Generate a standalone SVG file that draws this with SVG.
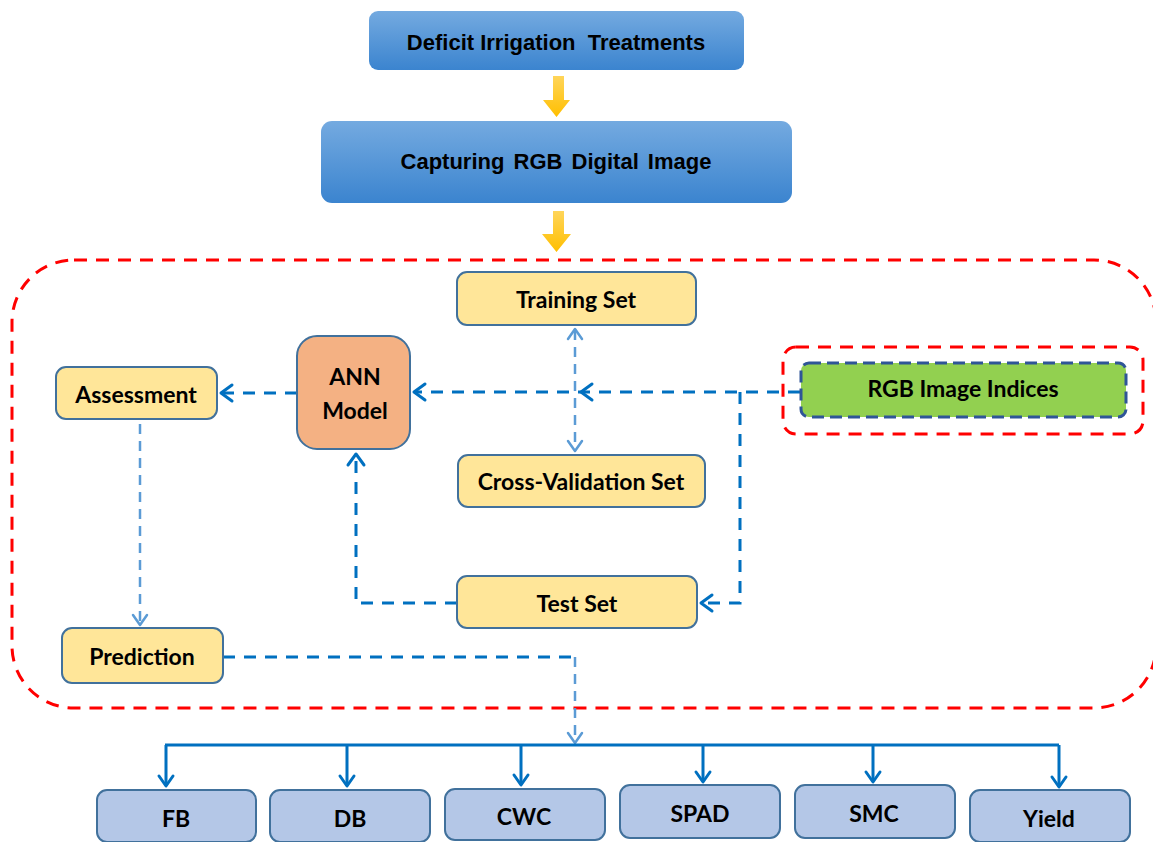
<svg xmlns="http://www.w3.org/2000/svg" width="1153" height="842" viewBox="0 0 1153 842">
  <defs>
    <linearGradient id="blueGrad" x1="0" y1="0" x2="0" y2="1">
      <stop offset="0" stop-color="#74aae0"/>
      <stop offset="1" stop-color="#3b84cf"/>
    </linearGradient>
    <linearGradient id="goldGrad" x1="0" y1="0" x2="0" y2="1">
      <stop offset="0" stop-color="#ffd55a"/>
      <stop offset="1" stop-color="#ffbf00"/>
    </linearGradient>
  </defs>
  <style>
    .top { fill: url(#blueGrad); }
    .topText { font-family: "Liberation Sans", Arial, sans-serif; font-weight: bold; font-size: 22px; fill: #000; text-anchor: middle; white-space: pre; }
    .label { font-family: Lato, "Open Sans", sans-serif; font-weight: bold; font-size: 23px; fill: #000; text-anchor: middle; }
    .yellow { fill: #ffe699; stroke: #41719c; stroke-width: 2; }
    .ann { fill: #f4b183; stroke: #41719c; stroke-width: 2; }
    .out { fill: #b4c7e7; stroke: #41719c; stroke-width: 2; }
    .redDash { fill: none; stroke: #ff0000; stroke-width: 3; stroke-dasharray: 13 9; }
    .dash { fill: none; stroke: #0070c0; stroke-width: 3; stroke-dasharray: 12 9; }
    .dashLight { fill: none; stroke: #5b9bd5; stroke-width: 2.5; stroke-dasharray: 10 7; }
    .bus { fill: none; stroke: #0070c0; stroke-width: 3; }
    .head { fill: none; stroke: #0070c0; stroke-width: 3; stroke-linecap: round; stroke-linejoin: round; }
    .headLight { fill: none; stroke: #5b9bd5; stroke-width: 2.5; stroke-linecap: round; stroke-linejoin: round; }
    .gold { fill: url(#goldGrad); }
  </style>

  <!-- outer modelling frame -->
  <rect class="redDash" x="12" y="260" width="1144" height="448" rx="62" ry="62"/>

  <!-- stage arrows -->
  <g id="stage-arrows">
    <path class="gold" d="M553 76 H564 V100 H570 L556.5 117 L543 100 H553 Z"/>
    <path class="gold" d="M553 211 H564 V234 H571 L556.5 252 L542 234 H553 Z"/>
  </g>

  <g id="node-deficit">
    <rect class="top" x="369" y="11" width="375" height="59" rx="9"/>
    <text class="topText" x="556" y="50">Deficit Irrigation  Treatments</text>
  </g>

  <g id="node-capture">
    <rect class="top" x="321" y="121" width="471" height="82" rx="11"/>
    <text class="topText" x="556" y="169" word-spacing="3">Capturing RGB Digital Image</text>
  </g>

  <!-- connectors -->
  <g id="connectors">
    <!-- image indices into ANN model -->
    <line class="dash" x1="800" y1="392" x2="415" y2="392"/>
    <path class="head" d="M425 384 L414 392 L425 400"/>
    <path class="head" d="M592 384 L581 392 L592 400"/>
    <!-- image indices to test set -->
    <path class="dash" d="M740 392 V603 H703"/>
    <path class="head" d="M712 595 L701 603 L712 611"/>
    <!-- test set back to ANN model -->
    <path class="dash" d="M457 603 H356 V456"/>
    <path class="head" d="M348 465 L356 454 L364 465"/>
    <!-- ANN model to assessment -->
    <line class="dash" x1="297" y1="393" x2="222" y2="393"/>
    <path class="head" d="M232 385 L221 393 L232 401"/>
    <!-- training / cross-validation -->
    <line class="dashLight" x1="575" y1="330" x2="575" y2="449"/>
    <path class="headLight" d="M568 339 L575 329 L582 339"/>
    <path class="headLight" d="M568 441 L575 451 L582 441"/>
    <!-- assessment to prediction -->
    <line class="dashLight" x1="140" y1="424" x2="140" y2="624"/>
    <path class="headLight" d="M133 615 L140 625 L147 615"/>
    <!-- prediction to outputs -->
    <path class="dash" d="M223 657 H575"/>
    <line class="dashLight" x1="575" y1="657" x2="575" y2="742"/>
    <path class="headLight" d="M568 733 L575 743 L582 733"/>
    <!-- output bus -->
    <line class="bus" x1="165" y1="745" x2="1059" y2="745"/>
    <path class="bus" d="M166 745 V786 M347 745 V786 M521 745 V785 M703 745 V782 M873 745 V782 M1059 745 V787"/>
    <path class="head" d="M159 776 L166 786 L173 776"/>
    <path class="head" d="M340 776 L347 786 L354 776"/>
    <path class="head" d="M514 775 L521 785 L528 775"/>
    <path class="head" d="M696 772 L703 782 L710 772"/>
    <path class="head" d="M866 772 L873 782 L880 772"/>
    <path class="head" d="M1052 777 L1059 787 L1066 777"/>
  </g>

  <g id="node-training">
    <rect class="yellow" x="457" y="272" width="239" height="53" rx="10"/>
    <text class="label" x="576" y="308">Training Set</text>
  </g>

  <g id="node-crossval">
    <rect class="yellow" x="458" y="455" width="247" height="52" rx="10"/>
    <text class="label" x="581" y="490">Cross-Validation Set</text>
  </g>

  <g id="node-test">
    <rect class="yellow" x="457" y="576" width="240" height="52" rx="10"/>
    <text class="label" x="577" y="612">Test Set</text>
  </g>

  <g id="node-assessment">
    <rect class="yellow" x="56" y="367" width="161" height="52" rx="10"/>
    <text class="label" x="136" y="403">Assessment</text>
  </g>

  <g id="node-prediction">
    <rect class="yellow" x="62" y="628" width="161" height="55" rx="10"/>
    <text class="label" x="142" y="665">Prediction</text>
  </g>

  <g id="node-ann">
    <rect class="ann" x="297" y="336" width="113" height="113" rx="20"/>
    <text class="label" x="355" y="385">ANN</text>
    <text class="label" x="355" y="419">Model</text>
  </g>

  <g id="node-indices">
    <rect class="redDash" x="783" y="347" width="360" height="87" rx="13"/>
    <rect x="801" y="363" width="325" height="54" rx="8" fill="#92d050" stroke="#2f5597" stroke-width="3" stroke-dasharray="12 6"/>
    <text class="label" x="963" y="397">RGB Image Indices</text>
  </g>

  <g id="node-fb">
    <rect class="out" x="97" y="790" width="159" height="52" rx="10"/>
    <text class="label" x="176" y="827">FB</text>
  </g>
  <g id="node-db">
    <rect class="out" x="270" y="790" width="160" height="52" rx="10"/>
    <text class="label" x="350" y="827">DB</text>
  </g>
  <g id="node-cwc">
    <rect class="out" x="445" y="789" width="160" height="51" rx="10"/>
    <text class="label" x="524" y="825">CWC</text>
  </g>
  <g id="node-spad">
    <rect class="out" x="620" y="785" width="160" height="53" rx="10"/>
    <text class="label" x="700" y="822">SPAD</text>
  </g>
  <g id="node-smc">
    <rect class="out" x="795" y="785" width="160" height="53" rx="10"/>
    <text class="label" x="874" y="822">SMC</text>
  </g>
  <g id="node-yield">
    <rect class="out" x="970" y="790" width="160" height="52" rx="10"/>
    <text class="label" x="1049" y="827">Yield</text>
  </g>
</svg>
